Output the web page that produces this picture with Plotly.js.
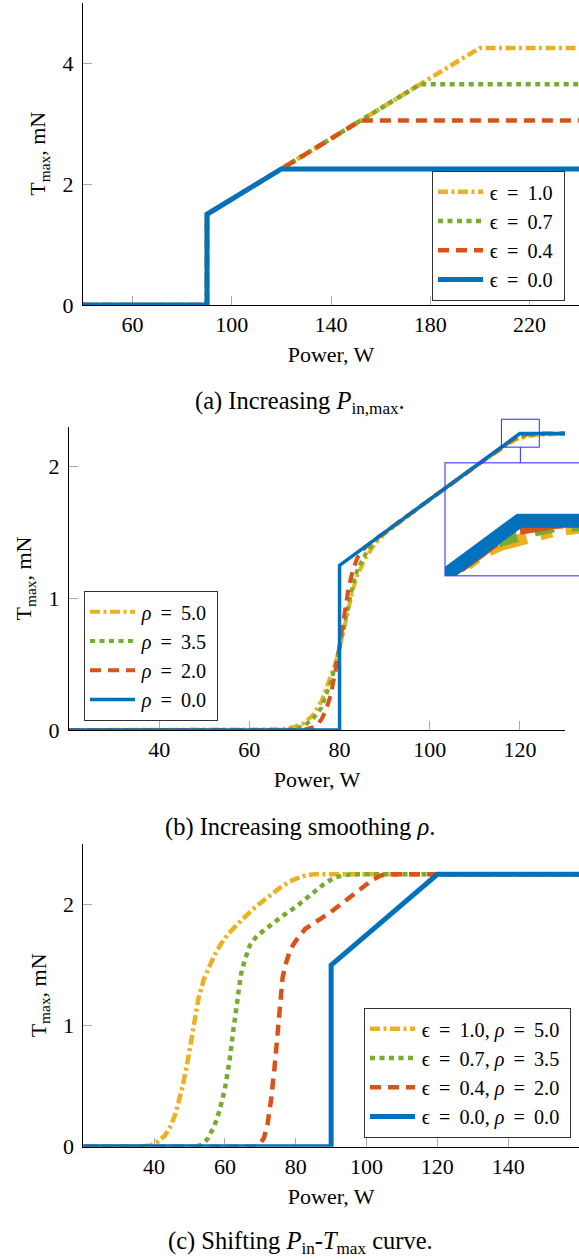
<!DOCTYPE html>
<html><head><meta charset="utf-8">
<script src="https://cdn.plot.ly/plotly-3.0.1.min.js"></script>
<style>html,body{margin:0;padding:0;background:#fff}#chart{width:579px;height:1259px}</style>
</head><body><div id="chart"></div>
<script>
// ---------- Panel (a): increasing P_in,max ----------
const a10_x = [40, 90, 90, 120, 200, 240];
const a10_y = [0, 0, 1.5, 2.25, 4.25, 4.25];
const a07_x = [40, 90, 90, 120, 176, 240];
const a07_y = [0, 0, 1.5, 2.25, 3.65, 3.65];
const a04_x = [40, 90, 90, 120, 152, 240];
const a04_y = [0, 0, 1.5, 2.25, 3.05, 3.05];
const a00_x = [40, 90, 90, 120, 240];
const a00_y = [0, 0, 1.5, 2.25, 2.25];
const a_eps = ["1.0", "0.7", "0.4", "0.0"];
const a_xticks = [60, 100, 140, 180, 220];
const a_yticks = [0, 2, 4];

// ---------- Panel (b): increasing smoothing rho ----------
const b50_x = [20, 64, 66, 68, 70, 72, 74, 76, 78, 79, 80, 81, 82, 83, 84, 86, 88, 90, 92, 95, 100, 110, 116, 118, 119, 120, 121, 122, 124, 127, 130];
const b50_y = [0, 0, 0.005, 0.01, 0.025, 0.05, 0.11, 0.22, 0.4, 0.5, 0.62, 0.78, 0.94, 1.07, 1.18, 1.32, 1.42, 1.49, 1.54, 1.62, 1.75, 2.0, 2.14, 2.19, 2.205, 2.215, 2.225, 2.232, 2.24, 2.247, 2.25];
const b35_x = [20, 68, 70, 72, 74, 76, 78, 79, 80, 81, 82, 83, 84, 86, 88, 90, 92, 100, 110, 116, 118, 119, 120, 121, 122, 125, 130];
const b35_y = [0, 0, 0.01, 0.03, 0.08, 0.17, 0.36, 0.48, 0.63, 0.8, 0.97, 1.11, 1.22, 1.35, 1.44, 1.495, 1.55, 1.75, 2.0, 2.145, 2.195, 2.213, 2.225, 2.233, 2.24, 2.247, 2.25];
const b20_x = [20, 72, 74, 75, 76, 77, 78, 79, 80, 81, 82, 83, 84, 85, 86, 88, 90, 100, 110, 117, 118, 119, 120, 121, 122, 125, 130];
const b20_y = [0, 0, 0.02, 0.04, 0.08, 0.15, 0.26, 0.43, 0.64, 0.87, 1.08, 1.22, 1.31, 1.36, 1.395, 1.45, 1.5, 1.75, 2.0, 2.17, 2.2, 2.22, 2.235, 2.242, 2.246, 2.25, 2.25];
const b00_x = [20, 80, 80, 120, 130];
const b00_y = [0, 0, 1.25, 2.25, 2.25];
const b_rho = ["5.0", "3.5", "2.0", "0.0"];
const b_xticks = [40, 60, 80, 100, 120];
const b_yticks = [0, 1, 2];
// zoom window of the inset (data units of panel b)
const zoom_x = [115.9, 124.3];
const zoom_y = [2.147, 2.359];

// ---------- Panel (c): shifting curve ----------
const c10_x = [20, 36, 39, 41, 43, 44.5, 46, 48, 49.5, 51, 52.5, 54, 55.5, 57, 59, 61, 65, 69, 73, 76, 79, 82, 85, 160];
const c10_y = [0, 0, 0.01, 0.04, 0.09, 0.16, 0.27, 0.49, 0.71, 0.97, 1.22, 1.38, 1.49, 1.58, 1.68, 1.76, 1.88, 1.99, 2.08, 2.15, 2.2, 2.235, 2.25, 2.25];
const c07_x = [20, 51, 53, 55, 57, 58.5, 60, 61.3, 62.5, 63.6, 64.5, 65.5, 67, 69, 72, 76, 80, 84, 88, 91, 94, 97, 160];
const c07_y = [0, 0, 0.01, 0.06, 0.17, 0.3, 0.48, 0.71, 0.99, 1.26, 1.42, 1.53, 1.66, 1.74, 1.81, 1.9, 1.98, 2.07, 2.17, 2.225, 2.245, 2.25, 2.25];
const c04_x = [20, 68, 69.5, 71, 72, 73, 74, 74.8, 75.5, 76.3, 77.3, 78.5, 80, 82.7, 86.9, 90, 94, 98, 101.5, 104, 107, 160];
const c04_y = [0, 0, 0.01, 0.07, 0.18, 0.38, 0.65, 0.95, 1.2, 1.4, 1.52, 1.63, 1.7, 1.8, 1.88, 1.94, 2.03, 2.12, 2.2, 2.24, 2.25, 2.25];
const c00_x = [20, 90, 90, 120, 160];
const c00_y = [0, 0, 1.5, 2.25, 2.25];
const c_eps = ["1.0", "0.7", "0.4", "0.0"];
const c_rho = ["5.0", "3.5", "2.0", "0.0"];
const c_xticks = [40, 60, 80, 100, 120, 140];
const c_yticks = [0, 1, 2];

// ---------- styling ----------
const W = 579, H = 1259;
const FONT = '"Liberation Serif", "DejaVu Serif", serif';
const COL = ['#EDB120', '#77AC30', '#D95319', '#0072BD'];
const fx = p => p / W;
const fy = p => 1 - p / H;
// math-like spacing around "=" in legend entries
const SP = ' \u2009';
const eq = (sym, v) => sym + SP + '=' + SP + v;
const pad = s => '\u200A' + s + '\u2009\u200A';
const a_names = a_eps.map(v => pad(eq('ϵ', v)));
const b_names = b_rho.map(v => pad(eq('<i>ρ</i>', v)));
const c_names = c_eps.map((v, i) => pad(eq('ϵ', v) + ', ' + eq('<i>ρ</i>', c_rho[i])));

function dashFor(i, s) {
  if (i === 0) return (10*s)+'px,'+(3.5*s)+'px,'+(3*s)+'px,'+(3.5*s)+'px';
  if (i === 1) return (5*s)+'px,'+(4.5*s)+'px';
  if (i === 2) return (11*s)+'px,'+(7*s)+'px';
  return 'solid';
}
function tr(x, y, i, name, xa, ya, lg, width, s, showlegend) {
  return {x: x, y: y, type: 'scatter', mode: 'lines', name: name,
    xaxis: xa, yaxis: ya, legend: lg, showlegend: showlegend,
    line: {color: COL[i], width: width, dash: dashFor(i, s)}, hoverinfo: 'skip'};
}

const traces = [];
const A = [[a10_x,a10_y],[a07_x,a07_y],[a04_x,a04_y],[a00_x,a00_y]];
A.forEach((d,i)=>traces.push(tr(d[0],d[1],i,a_names[i],'x','y','legend', i===3?5:4.5, 1, true)));
const B = [[b50_x,b50_y],[b35_x,b35_y],[b20_x,b20_y],[b00_x,b00_y]];
B.forEach((d,i)=>traces.push(tr(d[0],d[1],i,b_names[i],'x2','y2','legend2', i===3?3.5:4, 1, true)));
const C = [[c10_x,c10_y],[c07_x,c07_y],[c04_x,c04_y],[c00_x,c00_y]];
C.forEach((d,i)=>traces.push(tr(d[0],d[1],i,c_names[i],'x3','y3','legend3', i===3?5:4.5, 1, true)));
// inset (magnified copy of panel b)
B.forEach((d,i)=>traces.push(tr(d[0],d[1],i,b_names[i],'x4','y4','legend2', i===3?14:12, 4, false)));

const tickfont = {family: FONT, size: 22, color: '#000'};
const titlefont = {family: FONT, size: 22, color: '#000'};
function xax(domain, range, ticks, anchor) {
  return {domain: domain, range: range, tickvals: ticks, anchor: anchor,
    showgrid: false, zeroline: false, showline: true, linecolor: '#000', linewidth: 1,
    ticks: 'inside', ticklen: 9, tickcolor: '#aaa', tickwidth: 1, layer: 'below traces',
    tickfont: tickfont, ticklabelstandoff: 0, fixedrange: true,
    title: {text: 'Power, W', font: titlefont, standoff: 10}};
}
function yax(domain, range, ticks, anchor) {
  return {domain: domain, range: range, tickvals: ticks, anchor: anchor,
    showgrid: false, zeroline: false, showline: true, linecolor: '#000', linewidth: 1,
    ticks: 'inside', ticklen: 9, tickcolor: '#aaa', tickwidth: 1, layer: 'below traces',
    tickfont: tickfont, ticklabelstandoff: 4, fixedrange: true,
    title: {text: 'T<sub>max</sub>, mN', font: titlefont, standoff: 10}};
}
function legendAt(xpx, ypx, xanchor) {
  return {x: fx(xpx), xanchor: xanchor, y: fy(ypx), yanchor: 'bottom',
    bgcolor: '#fff', bordercolor: '#333', borderwidth: 1, itemwidth: 45,
    font: {family: FONT, size: 20.2, color: '#000'}, traceorder: 'normal'};
}

// panel pixel boxes
const inDom = {x: [fx(445), 1], y: [fy(575.7), fy(462.7)]};
const inRange = [zoom_x[0], zoom_x[0] + (zoom_x[1]-zoom_x[0]) * (W - 445) / (597 - 445)];
const bDom = {x: [fx(69), fx(565)], y: [fy(730), fy(427)]};
const bRange = {x: [20, 130], y: [0, 2.3]};
// convert panel-b data to paper coords (for the zoom marker box)
const bpx = v => bDom.x[0] + (v - bRange.x[0]) / (bRange.x[1]-bRange.x[0]) * (bDom.x[1]-bDom.x[0]);
const bpy = v => bDom.y[0] + (v - bRange.y[0]) / (bRange.y[1]-bRange.y[0]) * (bDom.y[1]-bDom.y[0]);

const capFont = {family: FONT, size: 24.5, color: '#000'};
const layout = {
  width: W, height: H, margin: {l: 0, r: 0, t: 0, b: 0},
  paper_bgcolor: '#fff', plot_bgcolor: 'rgba(0,0,0,0)',
  font: {family: FONT, color: '#000'},
  xaxis: xax([fx(83), 1], [40, 240], a_xticks, 'y'),
  yaxis: yax([fy(305), fy(2.5)], [0, 5], a_yticks, 'x'),
  xaxis2: xax(bDom.x, bRange.x, b_xticks, 'y2'),
  yaxis2: yax(bDom.y, bRange.y, b_yticks, 'x2'),
  xaxis3: xax([fx(83.3), 1], [20, 160], c_xticks, 'y3'),
  yaxis3: yax([fy(1146.7), fy(844)], [0, 2.5], c_yticks, 'x3'),
  xaxis4: {domain: inDom.x, range: inRange, anchor: 'y4', visible: false, fixedrange: true},
  yaxis4: {domain: inDom.y, range: zoom_y, anchor: 'x4', visible: false, fixedrange: true},
  legend: legendAt(565, 301, 'right'),
  legend2: legendAt(84, 721, 'left'),
  legend3: legendAt(571, 1138, 'right'),
  shapes: [
    {type: 'rect', xref: 'paper', yref: 'paper', x0: inDom.x[0], x1: 1.05, y0: inDom.y[0], y1: inDom.y[1],
     line: {color: 'rgba(60,60,255,0.75)', width: 1.5}, fillcolor: 'rgba(0,0,0,0)'},
    {type: 'rect', xref: 'paper', yref: 'paper', x0: bpx(zoom_x[0]), x1: bpx(zoom_x[1]), y0: bpy(zoom_y[0]), y1: bpy(zoom_y[1]),
     line: {color: 'rgb(40,40,255)', width: 1}, fillcolor: 'rgba(0,0,0,0)'},
    {type: 'line', xref: 'paper', yref: 'paper', x0: bpx((zoom_x[0]+zoom_x[1])/2), x1: bpx((zoom_x[0]+zoom_x[1])/2),
     y0: bpy(zoom_y[0]), y1: inDom.y[1], line: {color: 'rgb(40,40,255)', width: 1}}
  ],
  annotations: [
    {text: '(a) Increasing <i>P</i><sub>in,max</sub>.', xref: 'paper', yref: 'paper', x: fx(300), y: fy(403),
     showarrow: false, font: capFont, xanchor: 'center', yanchor: 'middle'},
    {text: '(b) Increasing smoothing <i>ρ</i>.', xref: 'paper', yref: 'paper', x: fx(300), y: fy(827),
     showarrow: false, font: capFont, xanchor: 'center', yanchor: 'middle'},
    {text: '(c) Shifting <i>P</i><sub>in</sub>-<i>T</i><sub>max</sub> curve.', xref: 'paper', yref: 'paper', x: fx(300), y: fy(1242),
     showarrow: false, font: capFont, xanchor: 'center', yanchor: 'middle'}
  ]
};

Plotly.newPlot('chart', traces, layout, {staticPlot: true, displayModeBar: false});
</script>
</body></html>
